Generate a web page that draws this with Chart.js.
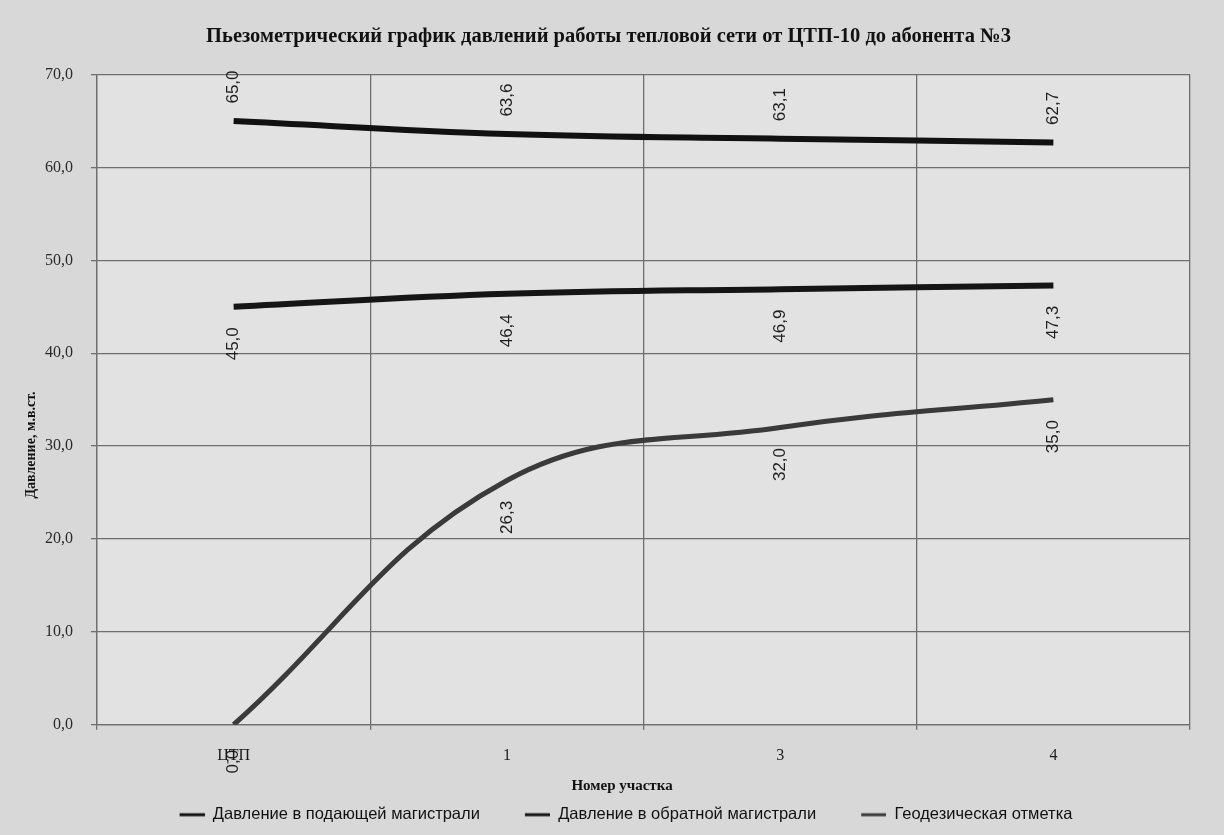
<!DOCTYPE html>
<html>
<head>
<meta charset="utf-8">
<script src="https://cdn.jsdelivr.net/npm/chart.js@4.4.1/dist/chart.umd.min.js"></script>
<style>
html, body { margin: 0; padding: 0; background: #d8d8d8; }
#wrap { width: 1224px; height: 835px; }
</style>
</head>
<body>
<div id="wrap"><canvas id="piezo" width="1224" height="835"></canvas></div>
<script>
// участки и значения (м.в.ст.)
var uchastki = ['ЦТП', '1', '3', '4'];
var podacha = [65.0, 63.6, 63.1, 62.7];
var obratka = [45.0, 46.4, 46.9, 47.3];
var geodezia = [0.0, 26.3, 32.0, 35.0];
var yTicks = [0, 10, 20, 30, 40, 50, 60, 70];

var serif = '"Liberation Serif", "Times New Roman", serif';
var sans = '"Liberation Sans", Arial, sans-serif';

function fmt(v) {
    return v.toFixed(1).replace('.', ',');
}

// значок легенды: короткая линия справа, слева пусто (отступ между элементами)
function znachok(color) {
    var c = document.createElement('canvas');
    c.width = 60;
    c.height = 6;
    var g = c.getContext('2d');
    g.strokeStyle = color;
    g.lineWidth = 3;
    g.beginPath();
    g.moveTo(35, 3);
    g.lineTo(60, 3);
    g.stroke();
    return c;
}

// фон области построения
var fon = {
    id: 'fon',
    beforeDraw: function(chart) {
        var ctx = chart.ctx, a = chart.chartArea;
        ctx.save();
        ctx.fillStyle = '#d8d8d8';
        ctx.fillRect(0, 0, chart.width, chart.height);
        ctx.fillStyle = '#e2e2e2';
        ctx.fillRect(a.left, a.top, a.right - a.left, a.bottom - a.top);
        ctx.restore();
    }
};

// подписи значений, повернутые вертикально
var podpisi = {
    id: 'podpisi',
    afterDatasetsDraw: function(chart) {
        var ctx = chart.ctx;
        chart.data.datasets.forEach(function(ds, i) {
            var meta = chart.getDatasetMeta(i);
            meta.data.forEach(function(pt, j) {
                var dy = ds.labelAbove ? -34 : 37;
                ctx.save();
                ctx.translate(pt.x, pt.y + dy);
                ctx.rotate(-Math.PI / 2);
                ctx.font = '17px ' + sans;
                ctx.fillStyle = '#1e1e1e';
                ctx.textAlign = 'center';
                ctx.textBaseline = 'middle';
                ctx.fillText(fmt(ds.data[j]), 0, 0);
                ctx.restore();
            });
        });
    }
};

// заголовки осей
var osi = {
    id: 'osi',
    afterDraw: function(chart) {
        var ctx = chart.ctx;
        ctx.save();
        ctx.fillStyle = '#111';
        ctx.textAlign = 'center';
        ctx.textBaseline = 'middle';
        ctx.font = 'bold 15px ' + serif;
        ctx.fillText('Номер участка', 622, 786);
        ctx.translate(31, 445);
        ctx.rotate(-Math.PI / 2);
        ctx.font = 'bold 14px ' + serif;
        ctx.fillText('Давление, м.в.ст.', 0, 0);
        ctx.restore();
    }
};

var ctx = document.getElementById('piezo').getContext('2d');
var chart = new Chart(ctx, {
    type: 'line',
    data: {
        labels: uchastki,
        datasets: [{
            label: 'Давление в подающей магистрали',
            data: podacha,
            borderColor: '#111111',
            borderWidth: 6,
            tension: 0.4,
            pointRadius: 0,
            labelAbove: true,
            pointStyle: znachok('#111111')
        }, {
            label: 'Давление в обратной магистрали',
            data: obratka,
            borderColor: '#151515',
            borderWidth: 6,
            tension: 0.4,
            pointRadius: 0,
            pointStyle: znachok('#151515')
        }, {
            label: 'Геодезическая отметка',
            data: geodezia,
            borderColor: '#3a3a3a',
            borderWidth: 5,
            tension: 0.4,
            pointRadius: 0,
            pointStyle: znachok('#3a3a3a')
        }]
    },
    options: {
        responsive: false,
        animation: false,
        layout: { padding: { left: 27, right: 34, top: 0, bottom: 2 } },
        scales: {
            x: {
                offset: true,
                grid: { offset: true, color: '#6e6e6e', lineWidth: 1.3, tickLength: 5 },
                border: { color: '#6e6e6e', width: 1.3 },
                ticks: { font: { family: serif, size: 16 }, color: '#1a1a1a', padding: 16 },
                title: {
                    display: true,
                    text: 'Номер участка',
                    font: { family: serif, size: 13, weight: 'bold' },
                    color: 'rgba(0,0,0,0)',
                    padding: { top: 0, bottom: 0 }
                }
            },
            y: {
                min: 0,
                max: 70,
                afterBuildTicks: function(ax) {
                    ax.ticks = yTicks.map(function(v) { return { value: v }; });
                },
                grid: { color: '#6e6e6e', lineWidth: 1.3, tickLength: 6 },
                border: { color: '#6e6e6e', width: 1.3 },
                ticks: {
                    font: { family: serif, size: 16 },
                    color: '#2a2a2a',
                    padding: 18,
                    callback: function(v) { return fmt(v); }
                }
            }
        },
        plugins: {
            title: {
                display: true,
                text: 'Пьезометрический график давлений работы тепловой сети от ЦТП-10 до абонента №3',
                font: { family: serif, size: 20.5, weight: 'bold' },
                color: '#111',
                padding: { top: 24, bottom: 26 }
            },
            legend: {
                position: 'bottom',
                labels: {
                    font: { family: sans, size: 16.5 },
                    color: '#111',
                    usePointStyle: true,
                    pointStyleWidth: 60,
                    padding: 10
                }
            },
            tooltip: { enabled: false }
        }
    },
    plugins: [fon, podpisi, osi]
});
</script>
</body>
</html>
